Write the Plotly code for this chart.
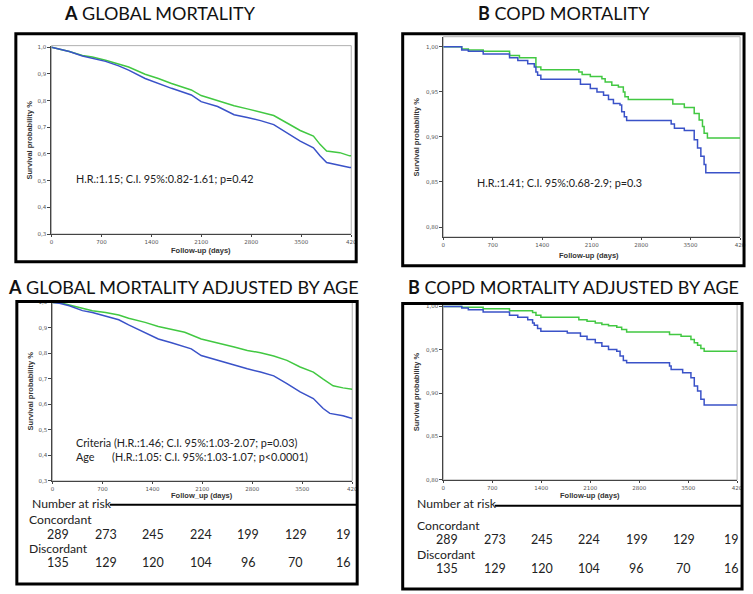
import plotly.graph_objects as go

W, H = 753, 594

# ---------------- data ----------------
# Panel A: global mortality (green = concordant, blue = discordant)
a_green_days = [0, 250, 434, 573, 758, 942, 1081, 1312, 1497, 1682, 1959, 2097, 2328, 2559, 2744, 2929, 3114, 3300, 3485, 3670, 3762, 3855, 4040, 4177, 4200]
a_green_surv = [1.0, 0.984, 0.969, 0.963, 0.951, 0.938, 0.926, 0.899, 0.883, 0.864, 0.840, 0.819, 0.799, 0.781, 0.769, 0.757, 0.744, 0.716, 0.688, 0.667, 0.636, 0.611, 0.605, 0.593, 0.593]
a_blue_days = [0, 250, 434, 573, 758, 942, 1081, 1312, 1497, 1682, 1959, 2097, 2328, 2559, 2744, 2929, 3114, 3300, 3485, 3670, 3762, 3855, 4040, 4177, 4200]
a_blue_surv = [1.0, 0.984, 0.967, 0.959, 0.947, 0.930, 0.914, 0.883, 0.864, 0.846, 0.821, 0.796, 0.778, 0.747, 0.737, 0.725, 0.710, 0.679, 0.648, 0.623, 0.593, 0.568, 0.556, 0.549, 0.549]

# Panel B: COPD mortality
b_green_days = [0, 261, 355, 565, 938, 1078, 1311, 1381, 1918, 1965, 2081, 2245, 2291, 2385, 2478, 2548, 2571, 2618, 3248, 3411, 3551, 3621, 3668, 3691, 3738, 4200]
b_green_surv = [1.0, 0.9974, 0.9963, 0.9949, 0.9901, 0.9876, 0.9773, 0.9744, 0.9718, 0.9692, 0.9670, 0.9645, 0.9608, 0.9571, 0.9553, 0.9498, 0.9444, 0.9414, 0.9363, 0.9326, 0.9260, 0.9187, 0.9114, 0.9041, 0.8986, 0.8986]
b_blue_days = [0, 261, 355, 565, 938, 1055, 1195, 1288, 1311, 1335, 1381, 1941, 2081, 2175, 2268, 2338, 2408, 2501, 2525, 2562, 2595, 3225, 3271, 3411, 3551, 3598, 3645, 3691, 3715, 4200]
b_blue_surv = [1.0, 0.9963, 0.9949, 0.9919, 0.9876, 0.9846, 0.9810, 0.9773, 0.9718, 0.9682, 0.9638, 0.9583, 0.9535, 0.9498, 0.9462, 0.9414, 0.9370, 0.9352, 0.9279, 0.9224, 0.9180, 0.9143, 0.9096, 0.9070, 0.8968, 0.8876, 0.8785, 0.8693, 0.8602, 0.8602]

# Panel C: global mortality adjusted by age
c_green_days = [0, 97, 236, 420, 559, 744, 929, 1067, 1298, 1483, 1668, 1853, 2084, 2315, 2546, 2730, 2915, 3100, 3285, 3470, 3655, 3793, 3932, 4071, 4200]
c_green_surv = [1.0, 1.0, 0.990, 0.977, 0.968, 0.961, 0.951, 0.938, 0.922, 0.906, 0.894, 0.883, 0.857, 0.842, 0.825, 0.812, 0.803, 0.790, 0.773, 0.747, 0.727, 0.699, 0.673, 0.665, 0.660]
c_blue_days = [0, 97, 236, 420, 559, 744, 929, 1067, 1298, 1483, 1668, 1945, 2084, 2315, 2546, 2730, 2915, 3100, 3285, 3470, 3655, 3793, 3886, 4071, 4200]
c_blue_surv = [1.0, 0.997, 0.987, 0.968, 0.961, 0.948, 0.932, 0.912, 0.883, 0.857, 0.842, 0.818, 0.792, 0.773, 0.753, 0.740, 0.727, 0.712, 0.682, 0.649, 0.623, 0.584, 0.565, 0.556, 0.545]

# Panel D: COPD mortality adjusted by age
d_green_days = [0, 264, 570, 947, 1277, 1325, 1395, 1938, 2055, 2173, 2267, 2362, 2480, 2550, 2621, 3234, 3399, 3540, 3588, 3635, 3682, 3729, 4200]
d_green_surv = [1.0, 0.9989, 0.9973, 0.9950, 0.9931, 0.9897, 0.9874, 0.9847, 0.9828, 0.9809, 0.9790, 0.9778, 0.9759, 0.9733, 0.9706, 0.9675, 0.9656, 0.9618, 0.9580, 0.9553, 0.9515, 0.9484, 0.9484]
d_blue_days = [0, 264, 358, 570, 947, 1065, 1207, 1277, 1301, 1348, 1395, 1773, 1961, 2055, 2173, 2267, 2362, 2480, 2527, 2574, 2621, 3234, 3257, 3422, 3540, 3588, 3635, 3682, 3729, 4200]
d_blue_surv = [1.0, 0.9981, 0.9962, 0.9935, 0.9897, 0.9874, 0.9847, 0.9809, 0.9782, 0.9744, 0.9713, 0.9694, 0.9656, 0.9618, 0.9580, 0.9542, 0.9503, 0.9484, 0.9427, 0.9377, 0.9351, 0.9312, 0.9274, 0.9236, 0.9179, 0.9083, 0.9026, 0.8930, 0.8865, 0.8865]

# Number at risk
risk_days = [0, 700, 1400, 2100, 2800, 3500, 4200]
risk_concordant = [289, 273, 245, 224, 199, 129, 19]
risk_discordant = [135, 129, 120, 104, 96, 70, 16]

# Ticks
x_tickvals = [0, 700, 1400, 2100, 2800, 3500, 4200]
x_ticktext = ["0", "700", "1400", "2100", "2800", "3500", "420"]
global_yticks = [0.3, 0.4, 0.5, 0.6, 0.7, 0.8, 0.9, 1.0]
global_ytext = ["0,3", "0,4", "0,5", "0,6", "0,7", "0,8", "0,9", "1,0"]
copd_yticks = [0.80, 0.85, 0.90, 0.95, 1.00]
copd_ytext = ["0,80", "0,85", "0,90", "0,95", "1,00"]

titles = ["GLOBAL MORTALITY", "COPD MORTALITY", "GLOBAL MORTALITY ADJUSTED BY AGE", "COPD MORTALITY ADJUSTED BY AGE"]
title_letters = ["A", "B", "A", "B"]

GREEN = "#42c842"
BLUE = "#3a52c8"

# ---------------- helpers ----------------
def px(x):
    return x / W

def py(y):
    return 1 - y / H

fig = go.Figure()

def add_curves(days_g, surv_g, days_b, surv_b, xa, ya, shape):
    fig.add_trace(go.Scatter(x=days_g, y=surv_g, mode="lines", line=dict(color=GREEN, width=1.5, shape=shape),
                             xaxis=xa, yaxis=ya, showlegend=False, hoverinfo="skip"))
    fig.add_trace(go.Scatter(x=days_b, y=surv_b, mode="lines", line=dict(color=BLUE, width=1.5, shape=shape),
                             xaxis=xa, yaxis=ya, showlegend=False, hoverinfo="skip"))

add_curves(a_green_days, a_green_surv, a_blue_days, a_blue_surv, "x", "y", "linear")
add_curves(b_green_days, b_green_surv, b_blue_days, b_blue_surv, "x2", "y2", "hv")
add_curves(c_green_days, c_green_surv, c_blue_days, c_blue_surv, "x3", "y3", "linear")
add_curves(d_green_days, d_green_surv, d_blue_days, d_blue_surv, "x4", "y4", "hv")

tickfont = dict(family="DejaVu Sans", size=5.5, color="#555555")

def xcfg(domain, anchor):
    return dict(domain=domain, range=[0, 4200], tickvals=x_tickvals, ticktext=x_ticktext,
                ticks="outside", ticklen=2, tickcolor="#444", showline=True, linecolor="#444",
                linewidth=1, showgrid=False, zeroline=False, tickfont=tickfont, anchor=anchor)

def ycfg(domain, rng, tv, tt, anchor):
    return dict(domain=domain, range=rng, tickvals=tv, ticktext=tt,
                ticks="outside", ticklen=3, tickcolor="#444", showline=True, linecolor="#444",
                linewidth=1, showgrid=False, zeroline=False, tickfont=tickfont, anchor=anchor)

# plot-area pixel boxes: (left, right, top, bottom)
boxA = (50, 353, 44, 234)
boxB = (446, 746, 35, 237)
boxC = (51, 354, 302, 483)
boxD = (446, 743, 304, 482)

def dom(box):
    l, r, t, b = box
    return [px(l), px(r)], [py(b), py(t)]

xa, ya = dom(boxA)
xb, yb = dom(boxB)
xc, yc = dom(boxC)
xd, yd = dom(boxD)

fig.update_layout(
    width=W, height=H, autosize=False,
    margin=dict(l=0, r=0, t=0, b=0),
    paper_bgcolor="white", plot_bgcolor="rgba(0,0,0,0)",
    xaxis=xcfg(xa, "y"),
    yaxis=ycfg(ya, [0.3, 1.006], global_yticks, global_ytext, "x"),
    xaxis2=xcfg(xb, "y2"),
    yaxis2=ycfg(yb, [0.789, 1.011], copd_yticks, copd_ytext, "x2"),
    xaxis3=xcfg(xc, "y3"),
    yaxis3=ycfg(yc, [0.3, 1.004], global_yticks, global_ytext, "x3"),
    xaxis4=xcfg(xd, "y4"),
    yaxis4=ycfg(yd, [0.80, 1.0034], copd_yticks, copd_ytext, "x4"),
    # hidden helper axes for the number-at-risk columns
    xaxis5=dict(domain=[px(57), px(345)], range=[0, 4200], visible=False, anchor="free", position=0),
    xaxis6=dict(domain=[px(450), px(737)], range=[0, 4200], visible=False, anchor="free", position=0),
    showlegend=False,
)

shapes = []
# outer thick boxes
for (l, r, t, b) in [(14, 358, 32, 262), (405, 750, 32, 266), (15, 359, 302, 587), (405, 748, 304, 592)]:
    shapes.append(dict(type="rect", xref="paper", yref="paper", x0=px(l), x1=px(r), y0=py(b), y1=py(t),
                       line=dict(color="black", width=3), fillcolor="rgba(0,0,0,0)", layer="above"))
# thin grey frames around plot areas
for (l, r, t, b) in [boxA, boxB, boxC, boxD]:
    shapes.append(dict(type="rect", xref="paper", yref="paper", x0=px(l), x1=px(r), y0=py(b), y1=py(t),
                       line=dict(color="#b0b0b0", width=1), fillcolor="rgba(0,0,0,0)", layer="below"))
# "Number at risk" rules
shapes.append(dict(type="line", xref="paper", yref="paper", x0=px(109), x1=px(358), y0=py(507), y1=py(507),
                   line=dict(color="black", width=2)))
shapes.append(dict(type="line", xref="paper", yref="paper", x0=px(498), x1=px(748), y0=py(508), y1=py(508),
                   line=dict(color="black", width=2)))
fig.update_layout(shapes=shapes)

TXT = "Lato"
ann = []

def text(x, y, s, size=12, xanchor="left", bold=False, family=TXT, color="#222", textangle=0):
    ann.append(dict(x=px(x), y=py(y), xref="paper", yref="paper", text=(f"<b>{s}</b>" if bold else s),
                    showarrow=False, xanchor=xanchor, yanchor="middle", textangle=textangle,
                    font=dict(family=family, size=size, color=color)))

# panel titles
title_pos = [(160, 11), (568, 11), (183, 287), (578, 287)]
for (x, y), letter, t in zip(title_pos, title_letters, titles):
    ann.append(dict(x=px(x), y=py(y), xref="paper", yref="paper", text=f"<b>{letter}</b> {t}",
                    showarrow=False, xanchor="center", yanchor="middle",
                    font=dict(family=TXT, size=18, color="#111")))

# axis titles
AX = "Liberation Sans"
text(201, 251, "Follow-up (days)", size=7.5, xanchor="center", bold=True, family=AX, color="#333")
text(593, 256, "Follow-up (days)", size=7.5, xanchor="center", bold=True, family=AX, color="#333")
text(202, 498, "Follow_up (days)", size=7.5, xanchor="center", bold=True, family=AX, color="#333")
text(594, 498, "Follow-up (days)", size=7.5, xanchor="center", bold=True, family=AX, color="#333")
text(28, 139, "Survival probability %", size=7.5, xanchor="center", bold=True, family=AX, color="#333", textangle=-90)
text(419, 136, "Survival probability %", size=7.5, xanchor="center", bold=True, family=AX, color="#333", textangle=-90)
text(29, 392, "Survival probability %", size=7.5, xanchor="center", bold=True, family=AX, color="#333", textangle=-90)
text(419, 393, "Survival probability %", size=7.5, xanchor="center", bold=True, family=AX, color="#333", textangle=-90)

# statistics
ST = 10.8
text(73, 178, "H.R.:1.15; C.I. 95%:0.82-1.61; p=0.42", size=ST)
text(478, 182, "H.R.:1.41; C.I. 95%:0.68-2.9; p=0.3", size=ST)
text(73, 444, "Criteria (H.R.:1.46; C.I. 95%:1.03-2.07; p=0.03)", size=ST)
text(73, 458, "Age", size=ST)
text(109, 458, "(H.R.:1.05: C.I. 95%:1.03-1.07; p<0.0001)", size=ST)

# number at risk labels
NR = 12.2
text(28, 506, "Number at risk", size=NR)
text(25, 522, "Concordant", size=NR)
text(25, 551, "Discordant", size=NR)
text(417, 506, "Number at risk", size=NR)
text(417, 528, "Concordant", size=NR)
text(417, 557, "Discordant", size=NR)

for xref, y1, y2 in [("x5", 537, 565), ("x6", 542, 571)]:
    for d, c, dd in zip(risk_days, risk_concordant, risk_discordant):
        for val, yy in [(c, y1), (dd, y2)]:
            ann.append(dict(x=d, y=py(yy), xref=xref, yref="paper", text=str(val), showarrow=False,
                            xanchor="center", yanchor="middle", font=dict(family=TXT, size=12.5, color="#222")))

fig.update_layout(annotations=ann)
fig.write_html("out.html", config={"displayModeBar": False},
               post_script="document.body.style.margin='0px';document.body.style.overflow='hidden';")
